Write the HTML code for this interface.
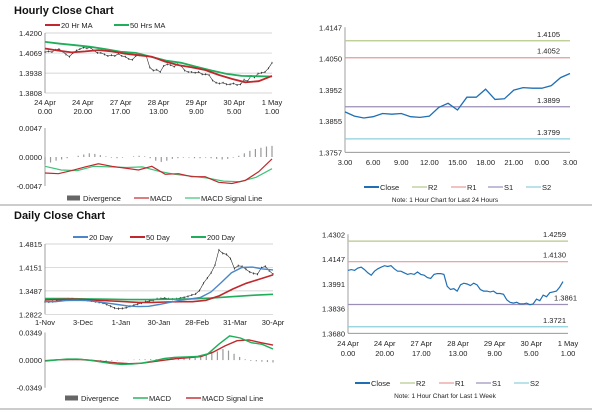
<!DOCTYPE html>
<html><head><meta charset="utf-8"><style>
html,body{margin:0;padding:0;background:#fff;}
svg{display:block;font-family:"Liberation Sans",Arial,sans-serif;}
</style></head><body>
<svg id="s" width="600" height="413" viewBox="0 0 600 413" xmlns="http://www.w3.org/2000/svg">
<text x="14" y="14" font-size="11" font-weight="bold" fill="#111">Hourly Close Chart</text>
<text x="14" y="219" font-size="11" font-weight="bold" fill="#111">Daily Close Chart</text>
<line x1="0" y1="205" x2="592" y2="205" stroke="#999" stroke-width="1"/>
<line x1="0" y1="409" x2="592" y2="409" stroke="#999" stroke-width="1"/>
<g id="g"></g>
</svg>
<script>
// ---- data ----
const weekClose=[1.4075,1.408,1.4075,1.409,1.4095,1.408,1.406,1.4045,1.407,1.4085,1.4095,1.4105,1.41,1.4105,1.4085,1.407,1.407,1.406,1.405,1.4055,1.405,1.4065,1.405,1.4045,1.403,1.4025,1.405,1.4055,1.4055,1.405,1.3975,1.3955,1.396,1.3945,1.3985,1.3995,1.399,1.398,1.3995,1.3985,1.3955,1.3945,1.3945,1.394,1.3945,1.393,1.393,1.3925,1.389,1.3875,1.387,1.3875,1.3865,1.3865,1.387,1.386,1.3865,1.3895,1.3885,1.392,1.391,1.3935,1.394,1.3945,1.397,1.4005];
const weekLabels=[["24 Apr","0.00"],["24 Apr","20.00"],["27 Apr","17.00"],["28 Apr","13.00"],["29 Apr","9.00"],["30 Apr","5.00"],["1 May","1.00"]];
const hrMA20=[1.4099,1.4085,1.4073,1.408,1.4088,1.408,1.4065,1.4055,1.4045,1.4013,1.399,1.3975,1.3958,1.3926,1.39,1.3878,1.3885,1.392];
const hrMA50=[1.4142,1.413,1.412,1.411,1.4095,1.4077,1.407,1.4045,1.402,1.4005,1.398,1.3955,1.3933,1.392,1.3918,1.3916];
const hrTicks=[1.4200,1.4069,1.3938,1.3808];
const hrMacd=[-0.0026,-0.0027,-0.0022,-0.0016,-0.0011,-0.0015,-0.0018,-0.0021,-0.0015,-0.0028,-0.0027,-0.0032,-0.0032,-0.0041,-0.0043,-0.0038,-0.0024,-0.0003];
const hrSignal=[-0.0015,-0.0021,-0.0022,-0.0015,-0.0016,-0.0017,-0.0016,-0.0023,-0.0028,-0.0031,-0.0034,-0.0039,-0.0040,-0.0033,-0.0019];
const hrDiv=[-0.0012,-0.0009,-0.0006,-0.0004,-0.0002,0,0.0002,0.0004,0.0006,0.0005,0.0003,0.0001,-0.0001,-0.0002,-0.0001,0,0.0001,0.0002,0.0001,-0.0002,-0.0006,-0.0008,-0.0006,-0.0003,-0.0002,-0.0001,-0.0001,-0.0002,-0.0002,-0.0001,-0.0002,-0.0003,-0.0004,-0.0003,-0.0001,0.0002,0.0006,0.0010,0.0013,0.0015,0.0017,0.0018];
const macdTicks=[0.0047,0,-0.0047];
const dayClose=[1.318,1.317,1.318,1.320,1.322,1.324,1.326,1.326,1.325,1.325,1.324,1.322,1.320,1.318,1.316,1.314,1.310,1.305,1.300,1.298,1.299,1.301,1.305,1.308,1.311,1.314,1.318,1.320,1.322,1.326,1.327,1.328,1.326,1.325,1.326,1.328,1.330,1.333,1.337,1.340,1.350,1.370,1.385,1.400,1.422,1.4645,1.455,1.452,1.440,1.412,1.420,1.418,1.410,1.402,1.398,1.396,1.414,1.418,1.406,1.396];
const dayLabels=["1-Nov","3-Dec","1-Jan","30-Jan","28-Feb","31-Mar","30-Apr"];
const day20=[1.318,1.318,1.321,1.322,1.321,1.318,1.314,1.310,1.306,1.304,1.305,1.310,1.316,1.322,1.326,1.330,1.345,1.372,1.400,1.415,1.416,1.411,1.408];
const day50=[1.323,1.324,1.325,1.324,1.322,1.320,1.318,1.316,1.316,1.317,1.318,1.318,1.322,1.335,1.354,1.370,1.382,1.394];
const day200=[1.327,1.327,1.326,1.325,1.324,1.324,1.325,1.326,1.328,1.332,1.336,1.339];
const dayTicks=[1.4815,1.4151,1.3487,1.2822];
const dMacd=[-0.0013,0,0.0013,0.0013,0,-0.002,-0.004,-0.0055,-0.005,-0.0035,-0.001,0.002,0.0035,0.004,0.0045,0.008,0.02,0.0306,0.028,0.022,0.020,0.014];
const dSignal=[-0.0008,0.0004,0.0008,0.0008,-0.0005,-0.002,-0.0035,-0.0045,-0.004,-0.002,0,0.002,0.003,0.0045,0.01,0.018,0.0245,0.0255,0.022,0.019];
const dDiv=[-0.0004,-0.0002,0,0.0002,0.0004,0.0005,0.0003,0.0001,-0.0002,-0.0005,-0.0008,-0.001,-0.0008,-0.0005,-0.0002,0.0002,0.0005,0.0008,0.001,0.0012,0.0012,0.0013,0.0015,0.0017,0.002,0.0025,0.003,0.004,0.005,0.007,0.009,0.011,0.014,0.012,0.008,0.004,0.001,-0.001,-0.0015,-0.002,-0.0025,-0.003];
const dMacdTicks=[0.0349,0,-0.0349];
const dayClose24=[1.3883,1.3870,1.3864,1.3868,1.3878,1.3876,1.3878,1.3868,1.3866,1.3870,1.3897,1.3910,1.3889,1.3929,1.3929,1.3954,1.3922,1.3924,1.3951,1.3959,1.3957,1.3957,1.3965,1.3990,1.4003];
const h24Labels=["3.00","6.00","9.00","12.00","15.00","18.00","21.00","0.00","3.00"];
const h24Ticks=[1.4147,1.4050,1.3952,1.3855,1.3757];
const h24Levels=[1.4105,1.4052,1.3899,1.3799];
const wkTicks=[1.4302,1.4147,1.3991,1.3836,1.3680];
const wkLevels=[1.4259,1.4130,1.3861,1.3721];
const levelNames=["R2","R1","S1","S2"];
const levelColors=["#b5c98a","#e59a9a","#9b8fb8","#8ccfdc"];

const NS="http://www.w3.org/2000/svg";
const G=document.getElementById('g');
function el(tag,attrs,parent){const e=document.createElementNS(NS,tag);for(const k in attrs)e.setAttribute(k,attrs[k]);(parent||G).appendChild(e);return e;}
function sc(d0,d1,r0,r1){return v=>r0+(v-d0)/(d1-d0)*(r1-r0);}
function series(arr,x0,x1,y,color,w,name){
  const x=sc(0,arr.length-1,x0,x1);
  const p=el('polyline',{points:arr.map((v,i)=>x(i).toFixed(1)+','+y(v).toFixed(1)).join(' '),fill:'none',stroke:color,'stroke-width':w});
  
  
}
function txt(s,x,y,size,anchor,name){const t=el('text',{x:x,y:y,'font-size':size,'text-anchor':anchor||'start',fill:'#222'});t.textContent=s;
  
  return t;}
function yaxis(ticks,x0,x1,y,grid,fmt,name){
  ticks.forEach(v=>{
    if(grid){const l=el('line',{x1:x0,x2:x1,y1:y(v),y2:y(v),stroke:'#c8c8c8','stroke-width':0.7});
      
      }
    txt(v.toFixed(4),x0-3,y(v)+3,7.5,'end',name+'-tick');
  });
  const a=el('line',{x1:x0,x2:x0,y1:y(ticks[0]),y2:y(ticks[ticks.length-1]),stroke:'#888','stroke-width':0.8});
  
  
}
function legLine(x,y,color,label,name,w){const l=el('line',{x1:x,x2:x+15,y1:y,y2:y,stroke:color,'stroke-width':w||2});
  
  
  txt(label,x+16,y+3,7.5,'start',name);}
function legBox(x,y,label,name){const r=el('rect',{x:x,y:y-2.5,width:13,height:5,fill:'#666'});
  
  
  txt(label,x+16,y+3,7.5,'start',name);}
function bars(arr,x0,x1,y,name){const x=sc(0,arr.length-1,x0,x1);
  arr.forEach((v,i)=>{const b=el('line',{x1:x(i),x2:x(i),y1:y(0),y2:y(v),stroke:'#999','stroke-width':1.2});
    
    });}

// ---- Hourly price panel ----
(function(){
  const X0=45,X1=272,y=sc(1.4200,1.3808,33,93);
  yaxis(hrTicks,X0,X1,y,true,4,'hourly-price');
  const xl=sc(0,weekLabels.length-1,X0,X1);
  weekLabels.forEach((l,i)=>{txt(l[0],xl(i),105,7.5,'middle','hourly-x-label');txt(l[1],xl(i),114,7.5,'middle','hourly-x-label');});
  const x=sc(0,weekClose.length-1,X0,X1);
  weekClose.forEach((v,i)=>{const b=el('line',{x1:x(i),x2:x(i),y1:y(v+0.0006),y2:y(v-0.0006),stroke:'#222','stroke-width':0.8});
    
    });
  series(weekClose,X0,X1,y,'#333',0.6,'hourly-close-line');
  series(hrMA50,X0,X1,y,'#1fae5a',1.8,'ma-50hr-line');
  series(hrMA20,X0,X1,y,'#c0282d',1.8,'ma-20hr-line');
  legLine(45,25,'#c0282d','20 Hr MA','legend-20hr-ma');
  legLine(114,25,'#1fae5a','50 Hrs MA','legend-50hr-ma');
  const ym=sc(0.0047,-0.0047,128,186);
  yaxis(macdTicks,X0,X1,ym,false,4,'hourly-macd');
  bars(hrDiv,X0,X1,ym,'hourly-divergence-bar');
  series(hrSignal,X0,X1,ym,'#3cc47a',1.2,'hourly-macd-signal-line');
  series(hrMacd,X0,X1,ym,'#c0282d',1.2,'hourly-macd-line');
  legBox(67,198,'Divergence','legend-divergence');
  legLine(134,198,'#c0282d','MACD','legend-macd',1.2);
  legLine(185,198,'#3cc47a','MACD Signal Line','legend-macd-signal',1.2);
})();

// ---- 24h chart ----
(function(){
  const X0=345,X1=570,y=sc(1.4147,1.3757,27.3,152.3);
  yaxis(h24Ticks,X0,X1,y,false,4,'h24');
  const b=el('line',{x1:X0,x2:X1,y1:152.3,y2:152.3,stroke:'#888','stroke-width':0.8});
  
  
  const xl=sc(0,h24Labels.length-1,X0,X1);
  h24Labels.forEach((l,i)=>txt(l,xl(i),165,7.5,'middle','h24-x-label'));
  h24Levels.forEach((v,i)=>{const l=el('line',{x1:X0,x2:X1,y1:y(v),y2:y(v),stroke:levelColors[i],'stroke-width':1.2});
    
    
    txt(v.toFixed(4),X1-10,y(v)-4,7.5,'end','h24-level-label');});
  series(dayClose24,X0,X1,y,'#1f6fb4',1.3,'h24-close-line');
  legLine(364,187,'#1f6fb4','Close','legend-h24-close');
  [412,451,488,526].forEach((x,i)=>legLine(x,187,levelColors[i],levelNames[i],'legend-h24-'+levelNames[i].toLowerCase(),1.2));
  txt('Note: 1 Hour Chart for Last 24 Hours',445,202,6.5,'middle','h24-note');
})();

// ---- Daily price ----
(function(){
  const X0=45,X1=273,y=sc(1.4815,1.2822,244,314.3);
  yaxis(dayTicks,X0,X1,y,true,4,'daily-price');
  const xl=sc(0,dayLabels.length-1,X0,X1);
  dayLabels.forEach((l,i)=>txt(l,xl(i),325,7.5,'middle','daily-x-label'));
  const x=sc(0,dayClose.length-1,X0,X1);
  dayClose.forEach((v,i)=>{const b=el('line',{x1:x(i),x2:x(i),y1:y(v+0.003),y2:y(v-0.003),stroke:'#222','stroke-width':0.8});
    
    });
  series(dayClose,X0,X1,y,'#333',0.6,'daily-close-line');
  series(day200,X0,X1,y,'#1fae5a',1.6,'ma-200day-line');
  series(day50,X0,X1,y,'#c0282d',1.6,'ma-50day-line');
  series(day20,X0,X1,y,'#4a86c8',1.4,'ma-20day-line');
  legLine(73,237,'#4a86c8','20 Day','legend-20day');
  legLine(130,237,'#c0282d','50 Day','legend-50day');
  legLine(191,237,'#1fae5a','200 Day','legend-200day');
  const ym=sc(0.0349,-0.0349,332.5,387.7);
  yaxis(dMacdTicks,X0,X1,ym,false,4,'daily-macd');
  bars(dDiv,X0,X1,ym,'daily-divergence-bar');
  series(dSignal,X0,X1,ym,'#c0282d',1.4,'daily-macd-signal-line');
  series(dMacd,X0,X1,ym,'#1fae5a',1.4,'daily-macd-line');
  legBox(65,398,'Divergence','legend-daily-divergence');
  legLine(133,398,'#1fae5a','MACD','legend-daily-macd',1.4);
  legLine(186,398,'#c0282d','MACD Signal Line','legend-daily-macd-signal',1.4);
})();

// ---- Week chart ----
(function(){
  const X0=348,X1=568,y=sc(1.4302,1.3680,234.3,333.3);
  yaxis(wkTicks,X0,X1,y,false,4,'week');
  const b=el('line',{x1:X0,x2:X1,y1:333.3,y2:333.3,stroke:'#888','stroke-width':0.8});
  
  
  const xl=sc(0,weekLabels.length-1,X0,X1);
  weekLabels.forEach((l,i)=>{txt(l[0],xl(i),346,7.5,'middle','week-x-label');txt(l[1],xl(i),356,7.5,'middle','week-x-label');});
  wkLevels.forEach((v,i)=>{const l=el('line',{x1:X0,x2:X1,y1:y(v),y2:y(v),stroke:levelColors[i],'stroke-width':1.2});
    
    
    const lx=(i===2)?X1+9:X1-2;
    txt(v.toFixed(4),lx,y(v)-4,7.5,'end','week-level-label');});
  series(weekClose,X0,X1-5,y,'#1f6fb4',1.2,'week-close-line');
  legLine(355,383,'#1f6fb4','Close','legend-week-close');
  [400,439,476,514].forEach((x,i)=>legLine(x,383,levelColors[i],levelNames[i],'legend-week-'+levelNames[i].toLowerCase(),1.2));
  txt('Note: 1 Hour Chart for  Last 1 Week',445,398,6.5,'middle','week-note');
})();
</script>
</body></html>
